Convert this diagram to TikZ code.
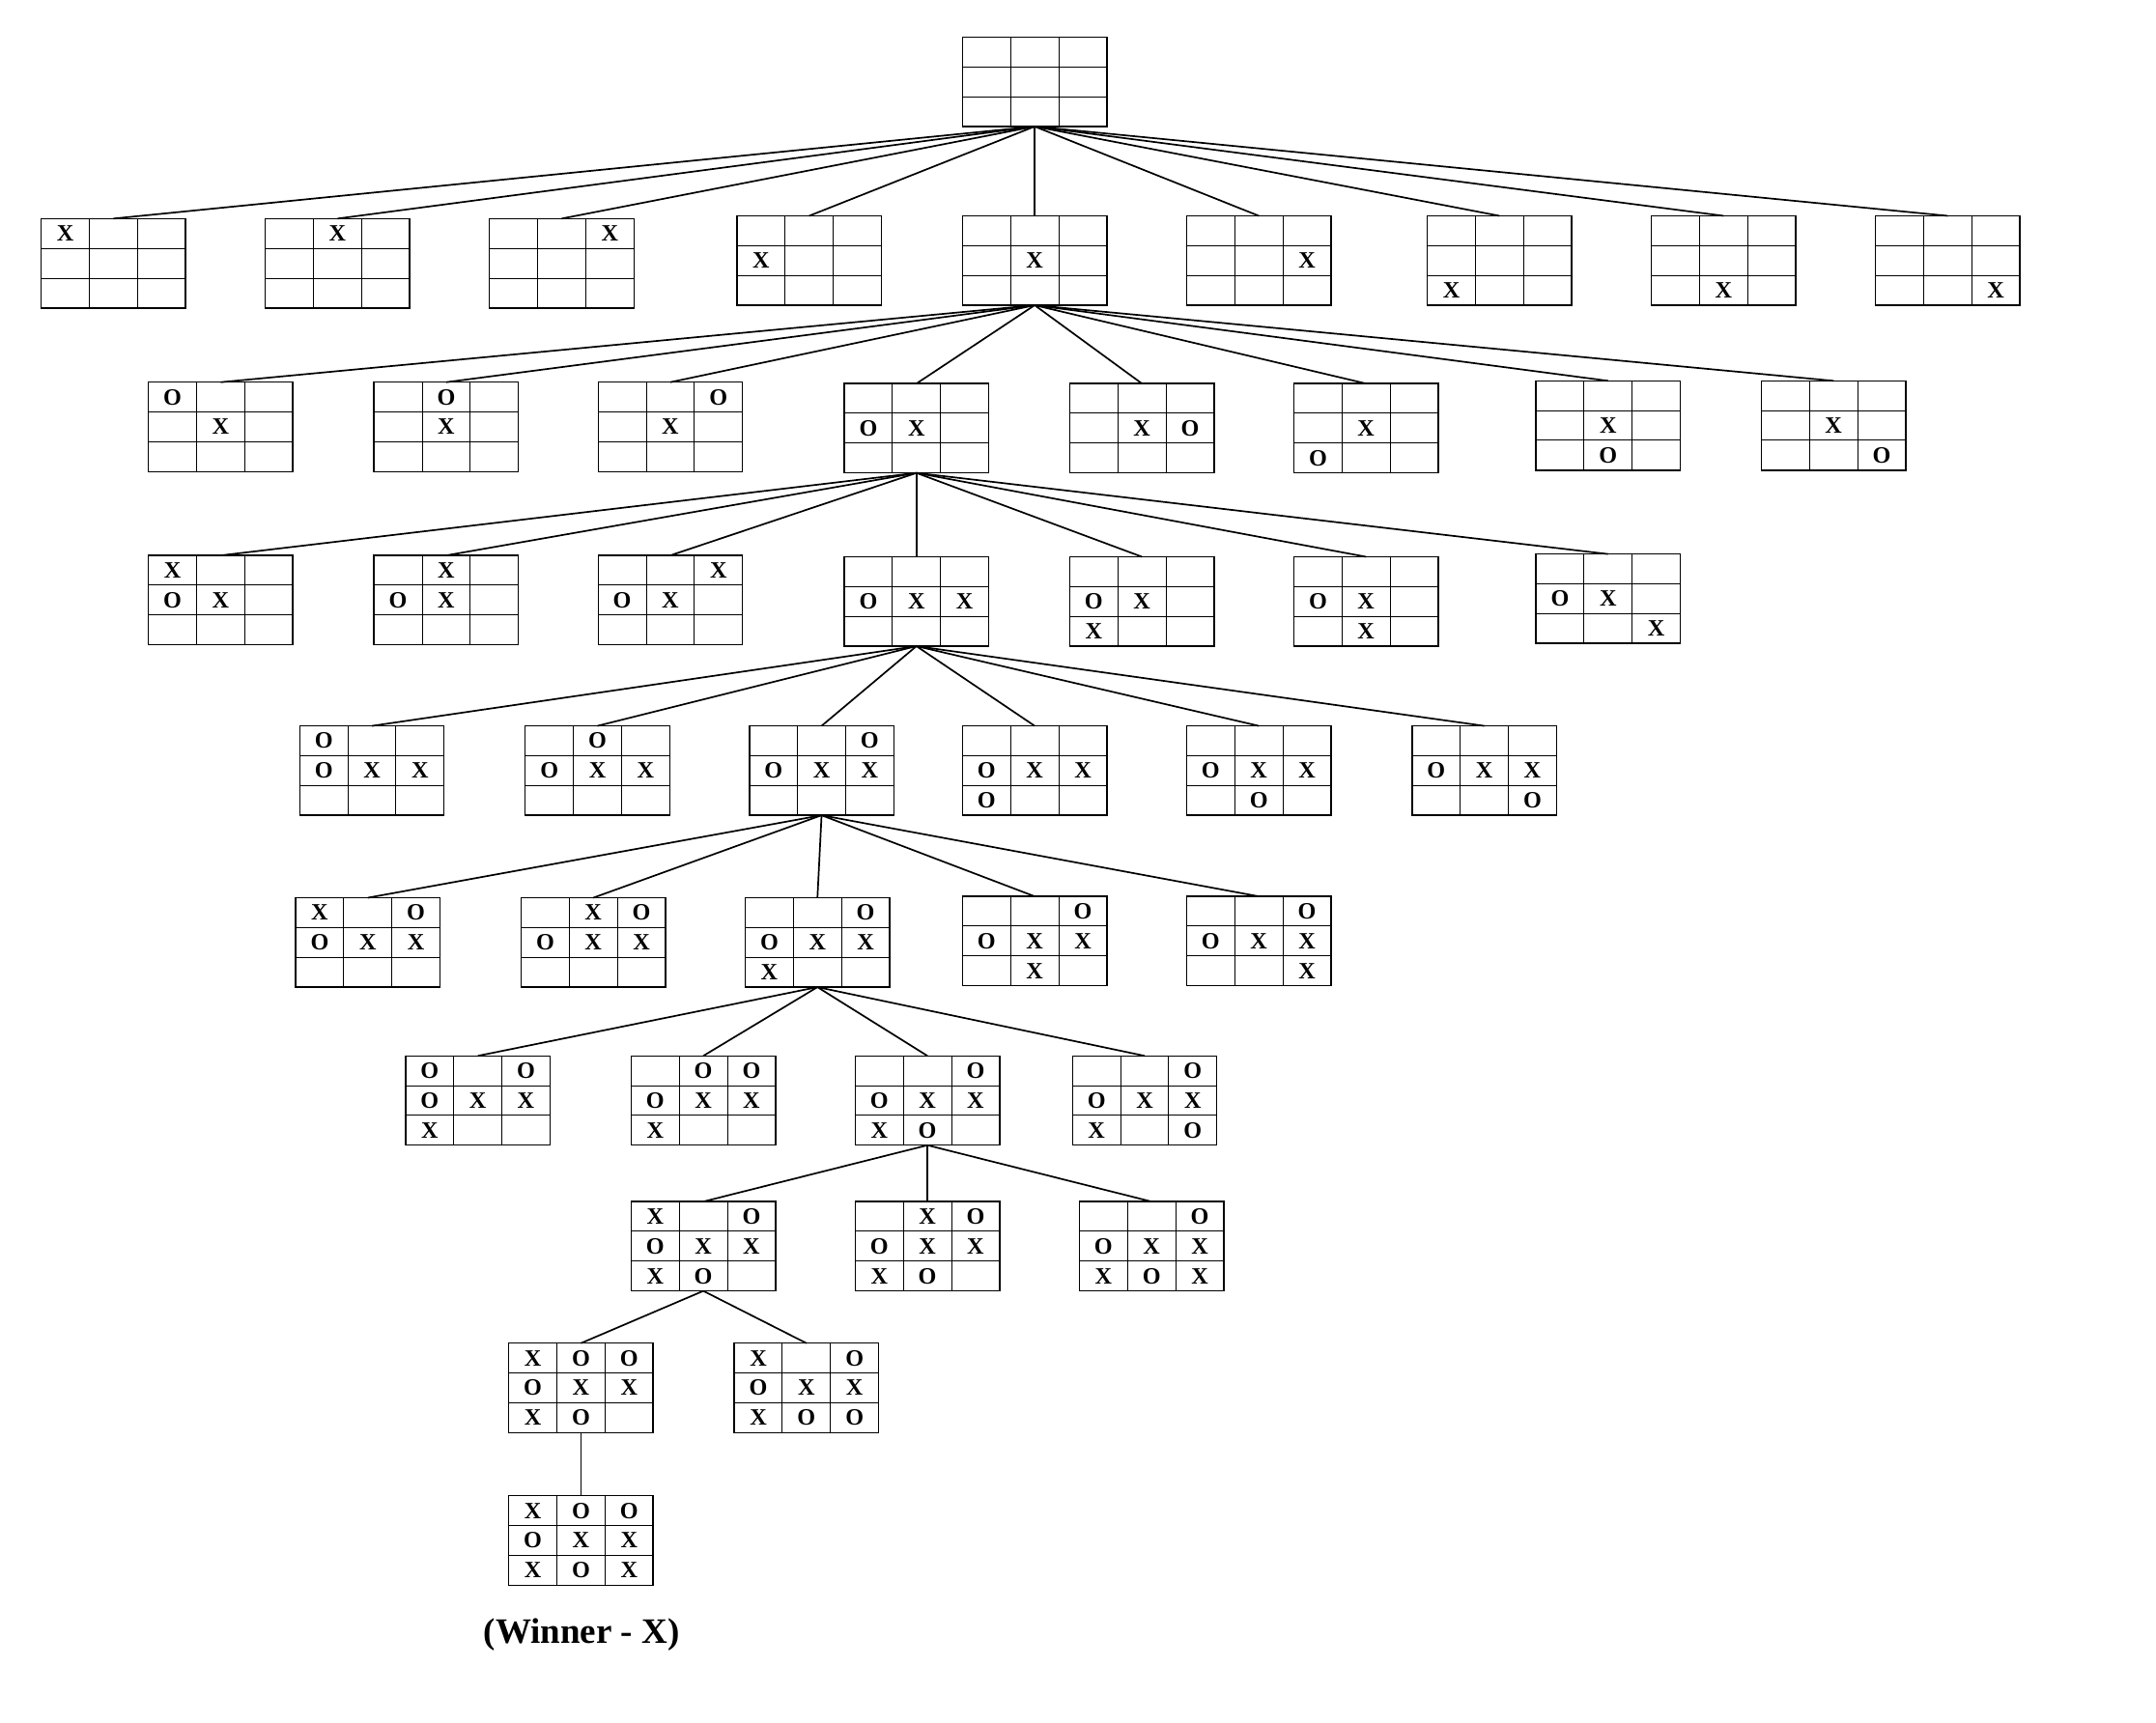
\documentclass[tikz,border=0pt]{standalone}
\usepackage{fontspec}
\setmainfont{Liberation Serif}
\newcommand\tttboard[4]{%
  \node[boardbox, anchor=north west] (#1) at (#2,#3) {};
  \draw[gridline] ([xshift=35pt]#1.north west) -- ([xshift=35pt]#1.south west)
    ([xshift=70pt]#1.north west) -- ([xshift=70pt]#1.south west)
    ([yshift=-21.667pt]#1.north west) -- ([yshift=-21.667pt]#1.north east)
    ([yshift=-43.333pt]#1.north west) -- ([yshift=-43.333pt]#1.north east);
  \foreach \c [count=\i from 0] in {#4} {%
    \if\c.\else
      \pgfmathtruncatemacro\rr{\i/3}%
      \pgfmathtruncatemacro\cc{mod(\i,3)}%
      \pgfmathsetmacro\px{17.5+35*\cc}%
      \pgfmathsetmacro\py{-(10.833+21.667*\rr)}%
      \node[cellmark] (#1-\i) at ([xshift=\px pt,yshift=\py pt]#1.north west) {\c};
    \fi
  }%
}
\begin{document}
\begin{tikzpicture}[x=1pt,y=-1pt,
  boardbox/.style={draw, line width=1pt, minimum width=105pt, minimum height=65pt, inner sep=0pt, outer sep=0pt},
  gridline/.style={line width=0.7pt},
  cellmark/.style={font=\bfseries\fontsize{17}{17}\selectfont, inner sep=0pt},
  link/.style={line width=1.2pt},
  caption/.style={font=\bfseries\fontsize{26}{26}\selectfont, inner sep=0pt}]
\fill[white] (0,0) rectangle (1568,1253);
\useasboundingbox (0,0) rectangle (1568,1253);
% root
\tttboard{root}{700}{27}{.,.,.,.,.,.,.,.,.}
% level 1
\tttboard{a1}{30}{159}{X,.,.,.,.,.,.,.,.}
\tttboard{a2}{193}{159}{.,X,.,.,.,.,.,.,.}
\tttboard{a3}{356}{159}{.,.,X,.,.,.,.,.,.}
\tttboard{a4}{536}{157}{.,.,.,X,.,.,.,.,.}
\tttboard{a5}{700}{157}{.,.,.,.,X,.,.,.,.}
\tttboard{a6}{863}{157}{.,.,.,.,.,X,.,.,.}
\tttboard{a7}{1038}{157}{.,.,.,.,.,.,X,.,.}
\tttboard{a8}{1201}{157}{.,.,.,.,.,.,.,X,.}
\tttboard{a9}{1364}{157}{.,.,.,.,.,.,.,.,X}
% level 2
\tttboard{b1}{108}{278}{O,.,.,.,X,.,.,.,.}
\tttboard{b2}{272}{278}{.,O,.,.,X,.,.,.,.}
\tttboard{b3}{435}{278}{.,.,O,.,X,.,.,.,.}
\tttboard{b4}{614}{279}{.,.,.,O,X,.,.,.,.}
\tttboard{b5}{778}{279}{.,.,.,.,X,O,.,.,.}
\tttboard{b6}{941}{279}{.,.,.,.,X,.,O,.,.}
\tttboard{b7}{1117}{277}{.,.,.,.,X,.,.,O,.}
\tttboard{b8}{1281}{277}{.,.,.,.,X,.,.,.,O}
% level 3
\tttboard{c1}{108}{404}{X,.,.,O,X,.,.,.,.}
\tttboard{c2}{272}{404}{.,X,.,O,X,.,.,.,.}
\tttboard{c3}{435}{404}{.,.,X,O,X,.,.,.,.}
\tttboard{c4}{614}{405}{.,.,.,O,X,X,.,.,.}
\tttboard{c5}{778}{405}{.,.,.,O,X,.,X,.,.}
\tttboard{c6}{941}{405}{.,.,.,O,X,.,.,X,.}
\tttboard{c7}{1117}{403}{.,.,.,O,X,.,.,.,X}
% level 4
\tttboard{d1}{218}{528}{O,.,.,O,X,X,.,.,.}
\tttboard{d2}{382}{528}{.,O,.,O,X,X,.,.,.}
\tttboard{d3}{545}{528}{.,.,O,O,X,X,.,.,.}
\tttboard{d4}{700}{528}{.,.,.,O,X,X,O,.,.}
\tttboard{d5}{863}{528}{.,.,.,O,X,X,.,O,.}
\tttboard{d6}{1027}{528}{.,.,.,O,X,X,.,.,O}
% level 5
\tttboard{e1}{215}{653}{X,.,O,O,X,X,.,.,.}
\tttboard{e2}{379}{653}{.,X,O,O,X,X,.,.,.}
\tttboard{e3}{542}{653}{.,.,O,O,X,X,X,.,.}
\tttboard{e4}{700}{652}{.,.,O,O,X,X,.,X,.}
\tttboard{e5}{863}{652}{.,.,O,O,X,X,.,.,X}
% level 6
\tttboard{f1}{295}{768}{O,.,O,O,X,X,X,.,.}
\tttboard{f2}{459}{768}{.,O,O,O,X,X,X,.,.}
\tttboard{f3}{622}{768}{.,.,O,O,X,X,X,O,.}
\tttboard{f4}{780}{768}{.,.,O,O,X,X,X,.,O}
% level 7
\tttboard{g1}{459}{874}{X,.,O,O,X,X,X,O,.}
\tttboard{g2}{622}{874}{.,X,O,O,X,X,X,O,.}
\tttboard{g3}{785}{874}{.,.,O,O,X,X,X,O,X}
% level 8
\tttboard{h1}{370}{977}{X,O,O,O,X,X,X,O,.}
\tttboard{h2}{534}{977}{X,.,O,O,X,X,X,O,O}
% level 9
\tttboard{i1}{370}{1088}{X,O,O,O,X,X,X,O,X}
\node[caption] (winner) at (423,1189) {(Winner - X)};
% connectors
\foreach \k in {a1,a2,a3,a4,a5,a6,a7,a8,a9} \draw[link] (root.south) -- (\k.north);
\foreach \k in {b1,b2,b3,b4,b5,b6,b7,b8} \draw[link] (a5.south) -- (\k.north);
\foreach \k in {c1,c2,c3,c4,c5,c6,c7} \draw[link] (b4.south) -- (\k.north);
\foreach \k in {d1,d2,d3,d4,d5,d6} \draw[link] (c4.south) -- (\k.north);
\foreach \k in {e1,e2,e3,e4,e5} \draw[link] (d3.south) -- (\k.north);
\foreach \k in {f1,f2,f3,f4} \draw[link] (e3.south) -- (\k.north);
\foreach \k in {g1,g2,g3} \draw[link] (f3.south) -- (\k.north);
\foreach \k in {h1,h2} \draw[link] (g1.south) -- (\k.north);
\draw[link] (h1.south) -- (i1.north);
\end{tikzpicture}
\end{document}
